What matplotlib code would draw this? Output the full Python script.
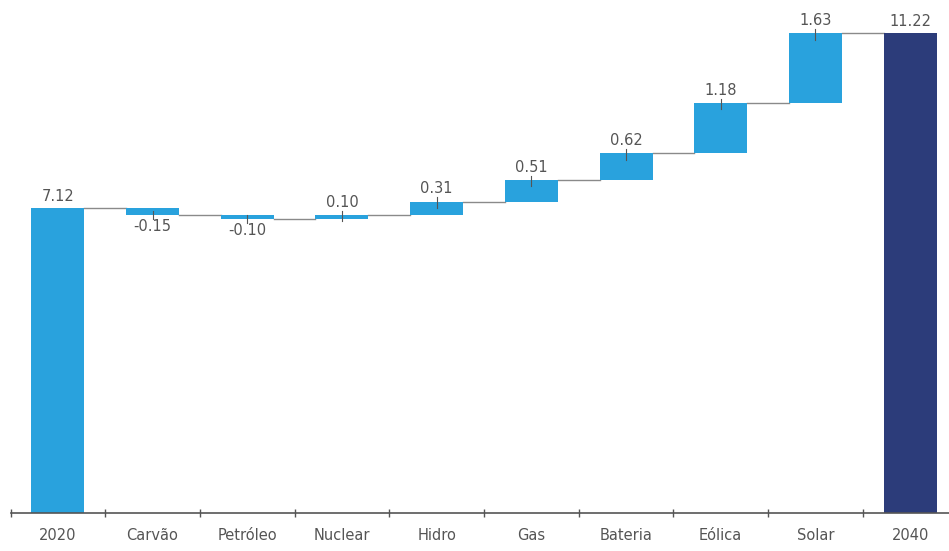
import numpy as np
import matplotlib.pyplot as plt

# Waterfall data
categories = ["2020", "Carvão", "Petróleo", "Nuclear", "Hidro", "Gas",
              "Bateria", "Eólica", "Solar", "2040"]
start_value = 7.12
changes = [-0.15, -0.10, 0.10, 0.31, 0.51, 0.62, 1.18, 1.63]
end_value = 11.22

LIGHT = "#29a2dd"
DARK = "#2c3c7a"
TEXT = "#555555"

plt.rcParams["font.family"] = ["DejaVu Sans"]

fig = plt.figure(figsize=(9.49, 5.51), dpi=100)
# axes extends a bit past the right edge, like the reference crop
ax = fig.add_axes([10.5 / 949, 38 / 551, 947 / 949, 509 / 551])

x = np.arange(len(categories))
width = 0.56

# running totals: levels[i] is the total after category i
levels = [start_value]
for c in changes:
    levels.append(levels[-1] + c)

bottoms = [0]
heights = [start_value]
for i, c in enumerate(changes):
    bottoms.append(min(levels[i], levels[i + 1]))
    heights.append(abs(c))
bottoms.append(0)
heights.append(end_value)

colors = [LIGHT] * (len(categories) - 1) + [DARK]
ax.bar(x, heights, width, bottom=bottoms, color=colors, zorder=2)

# connector lines
tops = levels + [end_value]
for i in range(len(categories) - 1):
    ax.plot([x[i] + width / 2, x[i + 1] - width / 2], [tops[i], tops[i]],
            color="#8a8a8a", lw=1, zorder=1)

# value labels
labels = [start_value] + changes + [end_value]
fs = 10.5
for i, v in enumerate(labels):
    if 0 < i < len(categories) - 1:
        y = levels[i]
        if v >= 0:
            ax.plot([x[i], x[i]], [y - 0.15, y + 0.1], color="#555555", lw=0.8, zorder=3)
            ax.text(x[i], y + 0.12, f"{v:.2f}", ha="center", va="bottom",
                    fontsize=fs, color=TEXT)
        else:
            ax.plot([x[i], x[i]], [y - 0.1, y + 0.1], color="#555555", lw=0.8, zorder=3)
            ax.text(x[i], y - 0.1, f"{v:.2f}", ha="center", va="top",
                    fontsize=fs, color=TEXT)
    else:
        ax.text(x[i], v + 0.1, f"{v:.2f}", ha="center", va="bottom",
                fontsize=fs, color=TEXT)

ax.set_xlim(-0.5, len(categories) - 0.5)
ax.set_ylim(0, 11.9)

for side in ["top", "right", "left"]:
    ax.spines[side].set_visible(False)
ax.spines["bottom"].set_color("#555555")
ax.spines["bottom"].set_linewidth(1.2)
ax.set_yticks([])

ax.set_xticks(np.arange(-0.5, len(categories), 1.0))
ax.set_xticklabels([])
ax.tick_params(axis="x", which="major", direction="inout", length=6,
               color="#555555", width=1)
ax.set_xticks(x, minor=True)
ax.set_xticklabels(categories, minor=True, fontsize=fs, color=TEXT)
ax.tick_params(axis="x", which="minor", length=0, pad=11)

fig.savefig("out.png", dpi=100)
